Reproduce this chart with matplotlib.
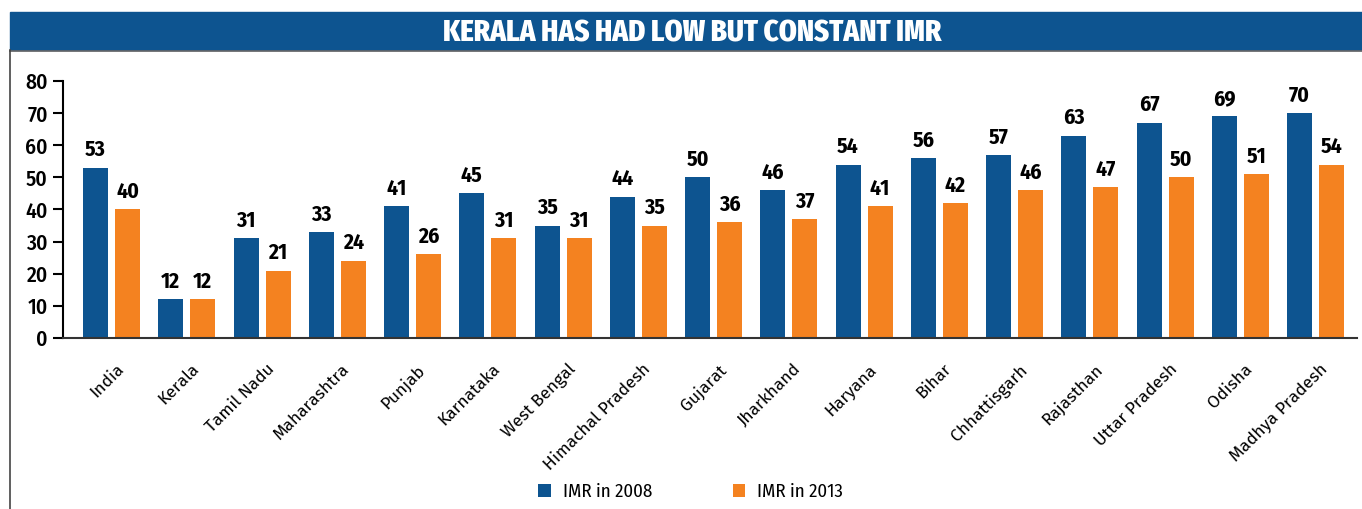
import matplotlib
matplotlib.use('Agg')
import matplotlib.pyplot as plt
import matplotlib.transforms as mtransforms
import numpy as np

states = ['India', 'Kerala', 'Tamil Nadu', 'Maharashtra', 'Punjab', 'Karnataka',
          'West Bengal', 'Himachal Pradesh', 'Gujarat', 'Jharkhand', 'Haryana',
          'Bihar', 'Chhattisgarh', 'Rajasthan', 'Uttar Pradesh', 'Odisha',
          'Madhya Pradesh']
imr_2008 = [53, 12, 31, 33, 41, 45, 35, 44, 50, 46, 54, 56, 57, 63, 67, 69, 70]
imr_2013 = [40, 12, 21, 24, 26, 31, 31, 35, 36, 37, 41, 42, 46, 47, 50, 51, 54]
yticks = [0, 10, 20, 30, 40, 50, 60, 70, 80]

BLUE = '#0d5490'
ORANGE = '#f48220'
XCOND = ['Fira Sans Extra Condensed', 'DejaVu Sans']
COND = ['Fira Sans Condensed', 'DejaVu Sans']
REG = ['Fira Sans', 'DejaVu Sans']

fig = plt.figure(figsize=(13.62, 5.09), dpi=100)

# title banner and frame lines
fig.patches.append(plt.Rectangle((10 / 1362, 1 - 50 / 509), 1 - 10 / 1362, 38 / 509,
                                 transform=fig.transFigure, color=BLUE, zorder=0))
fig.lines.append(plt.Line2D([10 / 1362, 1], [1 - 50.5 / 509] * 2,
                            transform=fig.transFigure, color='#666666', lw=1.2))
fig.lines.append(plt.Line2D([10 / 1362] * 2, [0, 1 - 50 / 509],
                            transform=fig.transFigure, color='#444444', lw=1.2))
fig.text(692 / 1362, 1 - 33 / 509, 'KERALA HAS HAD LOW BUT CONSTANT IMR',
         ha='center', va='center', color='white', fontsize=22.5,
         fontweight='heavy', family=XCOND)

ax = fig.add_axes([63 / 1362, 1 - 338 / 509, 1294 / 1362, 257 / 509])
x = np.arange(len(states))
off = 16 / 75.25
w = 25 / 75.25
b1 = ax.bar(x - off, imr_2008, w, color=BLUE, label='IMR in 2008', zorder=2)
b2 = ax.bar(x + off, imr_2013, w, color=ORANGE, label='IMR in 2013', zorder=2)

for bars, vals in ((b1, imr_2008), (b2, imr_2013)):
    for bar, v in zip(bars, vals):
        ax.annotate(str(v), (bar.get_x() + bar.get_width() / 2, v),
                    xytext=(0, 5), textcoords='offset points', ha='center',
                    va='bottom', fontsize=15.5, fontweight='bold', family=COND)

ax.set_xlim(-0.645, 16.55)
ax.set_ylim(0, 80)
ax.set_yticks(yticks)
ax.set_yticklabels([str(t) for t in yticks], family=COND, fontsize=15.5,
                   fontweight='medium')
ax.tick_params(axis='y', length=7, width=1.5, pad=4)
for s in ('top', 'right'):
    ax.spines[s].set_visible(False)
ax.spines['left'].set_linewidth(1.5)
ax.spines['bottom'].set_linewidth(1.5)
ax.spines['bottom'].set_color('#333333')

ax.set_xticks(x)
ax.set_xticklabels(states, rotation=45, ha='right', rotation_mode='anchor',
                   fontsize=12.5, family=REG)
ax.tick_params(axis='x', length=0, pad=16.5)
shift = mtransforms.ScaledTranslation(4 / 100, 0, fig.dpi_scale_trans)
for lbl in ax.get_xticklabels():
    lbl.set_transform(lbl.get_transform() + shift)

fig.legend(handles=[b1, b2], loc='center', ncol=2,
           bbox_to_anchor=(690.5 / 1362, 1 - 492 / 509), frameon=False,
           handlelength=0.67, handleheight=0.72, handletextpad=0.62,
           columnspacing=4.3, prop={'family': COND, 'size': 13.5})

fig.savefig('out.png', dpi=100)
